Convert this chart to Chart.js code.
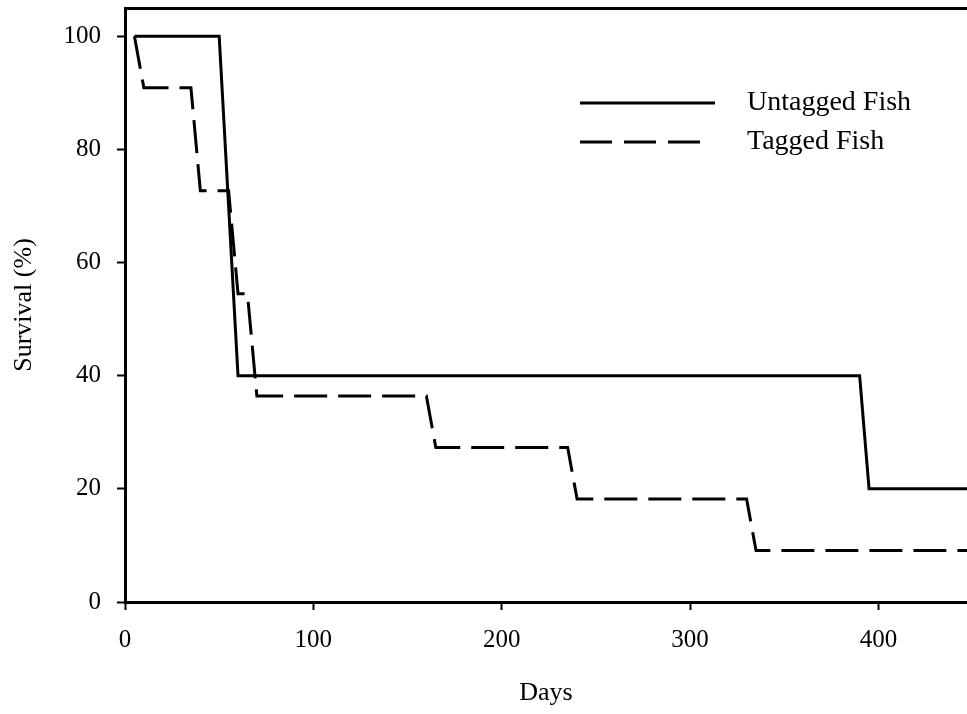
<!DOCTYPE html>
<html>
<head>
<meta charset="utf-8">
<script src="https://cdn.jsdelivr.net/npm/chart.js@4"></script>
<style>
  html, body { margin: 0; padding: 0; background: #fff; overflow: hidden; }
  #wrap { width: 967px; height: 714px; }
</style>
</head>
<body>
<div id="wrap"><canvas id="survivalChart"></canvas></div>
<script>
// survival data
const untaggedDays = [5, 50, 60, 390, 395, 447];
const untaggedSurvival = [100, 100, 40, 40, 20, 20];

const taggedDays = [5, 10, 35, 40, 55, 60, 65, 70, 160, 165, 235, 240, 330, 335, 447];
const taggedSurvival = [100, 90.9, 90.9, 72.7, 72.7, 54.5, 54.5, 36.4, 36.4, 27.3, 27.3, 18.2, 18.2, 9.1, 9.1];

const xTicks = [0, 100, 200, 300, 400];
const yTicks = [0, 20, 40, 60, 80, 100];

const seriesNames = ["Untagged Fish", "Tagged Fish"];

const serif = "'Liberation Serif', 'Times New Roman', serif";

// zip days and values into points
function toPoints(days, values) {
    return days.map((d, i) => ({ x: d, y: values[i] }));
}

// legend with long line samples, like the original
const lineLegend = {
    id: "lineLegend",
    afterDraw(chart) {
        const ctx = chart.ctx;
        const rows = [103, 142];
        ctx.save();
        chart.data.datasets.forEach((ds, i) => {
            ctx.beginPath();
            ctx.lineWidth = 3;
            ctx.strokeStyle = ds.borderColor;
            ctx.setLineDash(i === 0 ? [] : [32, 12]);
            ctx.moveTo(580, rows[i]);
            ctx.lineTo(i === 0 ? 715 : 700, rows[i]);
            ctx.stroke();
            ctx.setLineDash([]);
            ctx.fillStyle = "#000";
            ctx.font = "28px " + serif;
            ctx.textBaseline = "middle";
            ctx.fillText(ds.label, 747, rows[i]);
        });
        ctx.restore();
    }
};

// drop the extra room chart.js keeps for the end labels
function noPad(s) {
    s.paddingTop = 0;
    s.paddingBottom = 0;
    s.paddingLeft = 0;
    s.paddingRight = 0;
}

const ctx = document.getElementById("survivalChart").getContext("2d");

new Chart(ctx, {
    type: "line",
    data: {
        datasets: [
            {
                label: seriesNames[0],
                data: toPoints(untaggedDays, untaggedSurvival),
                borderColor: "#000",
                borderWidth: 3,
                pointRadius: 0,
                tension: 0,
                fill: false
            },
            {
                label: seriesNames[1],
                data: toPoints(taggedDays, taggedSurvival),
                borderColor: "#000",
                borderWidth: 3,
                borderDash: [33, 11],
                pointRadius: 0,
                tension: 0,
                fill: false
            }
        ]
    },
    options: {
        responsive: true,
        maintainAspectRatio: false,
        animation: false,
        layout: { padding: { top: 8, right: 0, left: 0, bottom: 0 } },
        plugins: {
            legend: { display: false },
            tooltip: { enabled: false }
        },
        scales: {
            x: {
                type: "linear",
                min: 0,
                max: 447,
                afterBuildTicks: (s) => { s.ticks = xTicks.map(v => ({ value: v })); },
                afterFit: (s) => { s.height = 112; noPad(s); },
                border: { display: true, color: "#000", width: 3 },
                grid: {
                    drawOnChartArea: false,
                    drawTicks: true,
                    tickLength: 8,
                    tickColor: "#000",
                    tickWidth: 2
                },
                ticks: {
                    color: "#000",
                    font: { family: serif, size: 25 },
                    padding: 15,
                    maxRotation: 0
                },
                title: {
                    display: true,
                    text: "Days",
                    color: "#000",
                    font: { family: serif, size: 26 },
                    padding: { top: 0, bottom: 5 }
                }
            },
            xTop: {
                type: "linear",
                position: "top",
                min: 0,
                max: 447,
                afterFit: (s) => { s.height = 0; noPad(s); },
                border: { display: true, color: "#000", width: 3 },
                grid: { display: false, drawTicks: false },
                ticks: { display: false }
            },
            y: {
                type: "linear",
                min: 0,
                max: 105,
                afterBuildTicks: (s) => { s.ticks = yTicks.map(v => ({ value: v })); },
                afterFit: (s) => { s.width = 125; noPad(s); },
                border: { display: true, color: "#000", width: 3 },
                grid: {
                    drawOnChartArea: false,
                    drawTicks: true,
                    tickLength: 8,
                    tickColor: "#000",
                    tickWidth: 2
                },
                ticks: {
                    color: "#000",
                    font: { family: serif, size: 25 },
                    padding: 16
                },
                title: {
                    display: true,
                    text: "Survival (%)",
                    color: "#000",
                    font: { family: serif, size: 26 },
                    padding: { top: 9, bottom: 0 }
                }
            }
        }
    },
    plugins: [lineLegend]
});
</script>
</body>
</html>
